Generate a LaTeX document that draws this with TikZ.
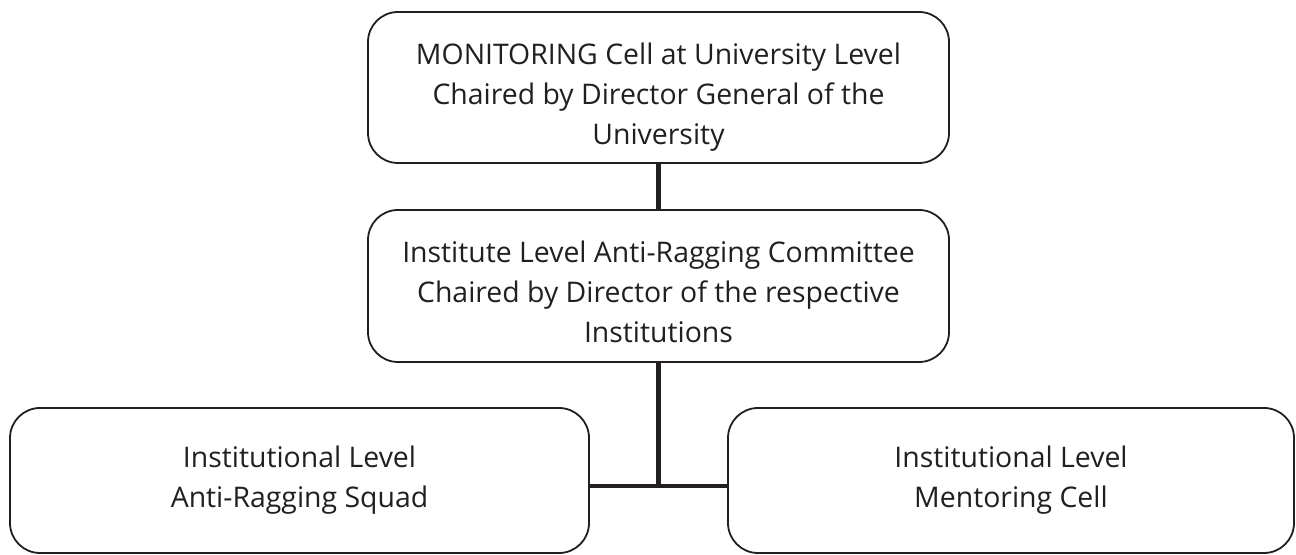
\documentclass[tikz,border=0pt]{standalone}
\usepackage{fontspec}
\setmainfont{Open Sans}
\usetikzlibrary{positioning}
\definecolor{linegray}{RGB}{35,31,32}
\tikzset{
	orgbox/.style={rectangle, rounded corners=15pt, draw=linegray, line width=0.9pt},
	orgtext/.style={align=center, text=linegray, inner sep=0pt, font=\fontsize{14.2}{20}\selectfont},
	orgline/.style={draw=linegray, line width=2.4pt}
}
\begin{document}
\begin{tikzpicture}[x=0.5pt,y=-0.5pt]
	\useasboundingbox (0,0) rectangle (1296,555);
	\node[orgbox, minimum width=290.5pt, minimum height=75.5pt] (moncell) at (658.5,87.5) {};
	\node[orgtext] (montext) at ([yshift=-5pt]moncell.center) {MONITORING Cell at University Level\\Chaired by Director General of the\\University};
	\node[orgbox, minimum width=290.5pt, minimum height=76pt] (arcomm) at (658.5,286) {};
	\node[orgtext] (arctext) at ([yshift=-3pt]arcomm.center) {Institute Level Anti-Ragging Committee\\Chaired by Director of the respective\\Institutions};
	\node[orgbox, minimum width=289.5pt, minimum height=72.5pt] (arsquad) at (299.5,480.5) {};
	\node[orgtext] (sqtext) at ([yshift=0pt]arsquad.center) {Institutional Level\\Anti-Ragging Squad};
	\node[orgbox, minimum width=283pt, minimum height=72.5pt] (mentcell) at (1011,480.5) {};
	\node[orgtext] (mctext) at ([yshift=0pt]mentcell.center) {Institutional Level\\Mentoring Cell};
	\coordinate (junc) at (658.5,486);
	\draw[orgline] (moncell.south) -- (arcomm.north);
	\draw[orgline] (arcomm.south) -- (junc);
	\draw[orgline] (arsquad.east |- junc) -- (mentcell.west |- junc);
\end{tikzpicture}
\end{document}
